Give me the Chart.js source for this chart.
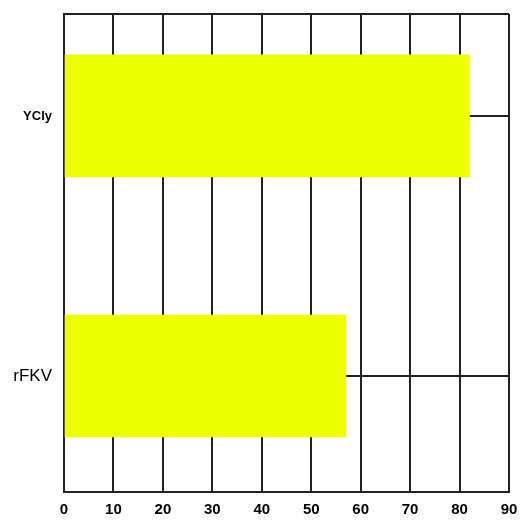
<!DOCTYPE html>
<html>
<head>
<meta charset="utf-8">
<script src="https://cdn.jsdelivr.net/npm/chart.js@4/dist/chart.umd.min.js"></script>
<style>
  html, body { margin: 0; padding: 0; background: #ffffff; }
  #wrap { width: 532px; height: 532px; }
</style>
</head>
<body>
<div id="wrap"><canvas id="chart" width="532" height="532"></canvas></div>
<script>
// Chart data
const categories = ['YCly', 'rFKV'];
const values = [82, 57];
const xMin = 0;
const xMax = 90;
const xStep = 10;

// category positions on the index axis (0 = top bar)
const yMin = -0.392;
const yMax = 1.446;

const gridColor = '#222222';

const ctx = document.getElementById('chart').getContext('2d');
new Chart(ctx, {
    type: 'bar',
    data: {
        datasets: [{
            data: categories.map((c, i) => ({ x: values[i], y: i })),
            backgroundColor: '#eeff00',
            borderWidth: 0,
            barThickness: 122
        }]
    },
    options: {
        indexAxis: 'y',
        responsive: false,
        animation: false,
        layout: { padding: { top: 14, right: 23, left: 0, bottom: 0 } },
        plugins: {
            legend: { display: false },
            tooltip: { enabled: false }
        },
        scales: {
            x: {
                type: 'linear',
                min: xMin,
                max: xMax,
                ticks: {
                    stepSize: xStep,
                    color: '#000000',
                    padding: 9,
                    font: { family: 'Liberation Sans', size: 15, weight: 'bold' }
                },
                grid: { color: gridColor, lineWidth: 2, drawTicks: false },
                border: { color: gridColor, width: 2 },
                afterFit: (scale) => { scale.height = 40; }
            },
            y: {
                type: 'linear',
                reverse: true,
                offset: false,
                min: yMin,
                max: yMax,
                afterBuildTicks: (scale) => {
                    scale.ticks = [yMin].concat(categories.map((c, i) => i), [yMax])
                        .map(v => ({ value: v }));
                },
                ticks: {
                    color: '#000000',
                    padding: 12,
                    callback: (v) => categories[v] !== undefined ? categories[v] : '',
                    font: (c) => {
                        const v = c.tick ? c.tick.value : null;
                        if (v === 0) return { family: 'Liberation Sans', size: 13, weight: 'bold' };
                        if (v === 1) return { family: 'Liberation Sans', size: 17, weight: 'normal' };
                        return { family: 'Liberation Sans', size: 1 };
                    }
                },
                grid: { color: gridColor, lineWidth: 2, drawTicks: false, offset: false },
                border: { color: gridColor, width: 2 },
                afterFit: (scale) => { scale.width = 64; }
            }
        }
    }
});
</script>
</body>
</html>
